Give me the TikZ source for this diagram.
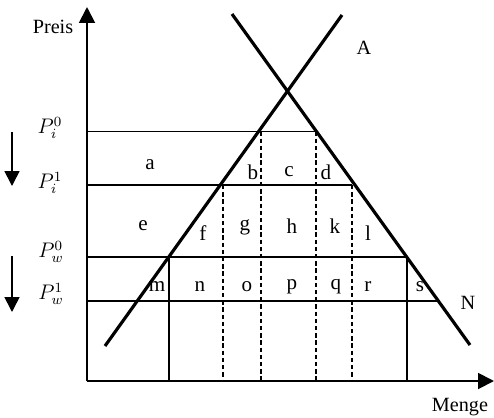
\documentclass[tikz,border=0pt]{standalone}
\usepackage{fontspec}
\setmainfont{Liberation Serif}
\usepackage{tikz}
\usetikzlibrary{arrows.meta}

\begin{document}
\begin{tikzpicture}[
    x=0.02cm, y=-0.02cm,
    axis/.style={line width=1.1pt, -{Triangle[length=9pt, width=9pt]}},
    curve/.style={line width=1.8pt},
    level/.style={line width=0.7pt},
    guide/.style={line width=0.7pt, dash pattern=on 2.5pt off 1.6pt},
    pricedrop/.style={line width=0.9pt, -{Triangle[length=8.5pt, width=8.5pt]}},
    area/.style={font=\fontsize{12}{12}\selectfont, inner sep=0pt},
    price/.style={font=\fontsize{11.5}{11.5}\selectfont, inner sep=0pt}
  ]
    \useasboundingbox (0,0) rectangle (494,417);
    % axes
    \coordinate (origin) at (87,381);
    \coordinate (ytop) at (87,7);
    \coordinate (xend) at (494,381);
    % price levels
    \coordinate (pi0) at (87,131.5);
    \coordinate (pi1) at (87,185);
    \coordinate (pw0) at (87,257);
    \coordinate (pw1) at (87,301);
    \coordinate (pi0end) at (316,131.5);
    \coordinate (pi1end) at (352,185);
    \coordinate (pw0end) at (407,257);
    \coordinate (pw1end) at (437,301);
    \draw[level] (pi0) -- (pi0end);
    \draw[level] (pi1) -- (pi1end);
    \draw[level] (pw0) -- (pw0end);
    \draw[level] (pw1) -- (pw1end);
    % quantities
    \coordinate (qw0s) at (169,257);  \coordinate (qw0b) at (169,381);
    \coordinate (qi1s) at (223,185);  \coordinate (qi1b) at (223,381);
    \coordinate (qi0s) at (261,131.5);\coordinate (qi0b) at (261,381);
    \coordinate (qi0d) at (316,131.5);\coordinate (qi0c) at (316,381);
    \coordinate (qi1d) at (352,185);  \coordinate (qi1c) at (352,381);
    \coordinate (qw0d) at (407,257);  \coordinate (qw0c) at (407,381);
    \draw[level] (qw0s) -- (qw0b);
    \draw[guide] (qi1s) -- (qi1b);
    \draw[guide] (qi0s) -- (qi0b);
    \draw[guide] (qi0d) -- (qi0c);
    \draw[guide] (qi1d) -- (qi1c);
    \draw[level] (qw0d) -- (qw0c);
    % supply and demand
    \coordinate (sup0) at (105,346);
    \coordinate (sup1) at (342,15);
    \coordinate (dem0) at (232,14);
    \coordinate (dem1) at (470,345);
    \draw[curve] (sup0) -- (sup1);
    \draw[curve] (dem0) -- (dem1);
    \draw[axis] (origin) -- (ytop);
    \draw[axis] (origin) -- (xend);
    % labels
    \node[price] (preis) at (53,27) {Preis};
    \node[price] (menge) at (460,407) {Menge};
    \node[price] (angebot) at (364,48) {A};
    \node[price] (nachfrage) at (468,303) {N};
    \node[price] (lpi0) at (50,128) {$P_{i}^{0}$};
    \node[price] (lpi1) at (50,183) {$P_{i}^{1}$};
    \node[price] (lpw0) at (51,252) {$P_{w}^{0}$};
    \node[price] (lpw1) at (51,294) {$P_{w}^{1}$};
    % price changes
    \coordinate (di0) at (12,132);
    \coordinate (di1) at (12,186);
    \coordinate (dw0) at (12,256);
    \coordinate (dw1) at (12,312);
    \draw[pricedrop] (di0) -- (di1);
    \draw[pricedrop] (dw0) -- (dw1);
    % areas
    \node[area] (a) at (150,165) {a};
    \node[area] (b) at (253,172) {b};
    \node[area] (c) at (289,172) {c};
    \node[area] (d) at (326,172) {d};
    \node[area] (e) at (143,226) {e};
    \node[area] (f) at (203,233) {f};
    \node[area] (g) at (245,227) {g};
    \node[area] (h) at (292,226) {h};
    \node[area] (k) at (335,226) {k};
    \node[area] (l) at (368,233) {l};
    \node[area] (m) at (157,287) {m};
    \node[area] (n) at (200,287) {n};
    \node[area] (o) at (247,287) {o};
    \node[area] (p) at (292,287) {p};
    \node[area] (q) at (336,287) {q};
    \node[area] (r) at (368,287) {r};
    \node[area] (s) at (420,287) {s};
  \end{tikzpicture}
\end{document}
